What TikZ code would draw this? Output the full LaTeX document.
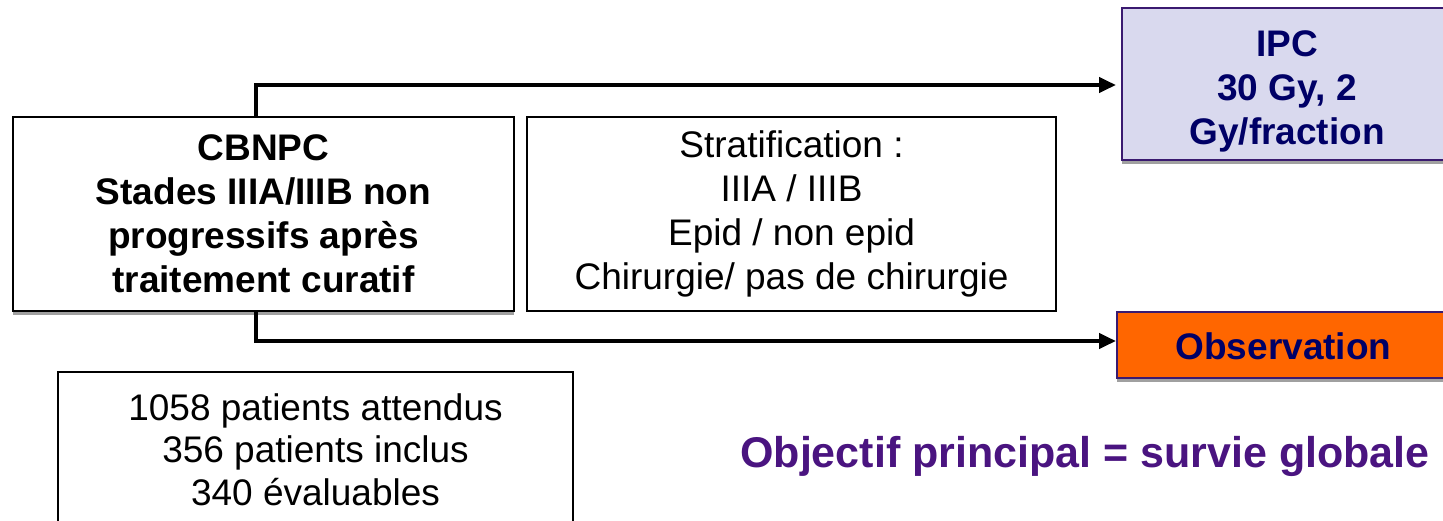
\documentclass[tikz,border=0pt]{standalone}
\usepackage{fontspec}
\setmainfont{Liberation Sans}
\usetikzlibrary{arrows.meta}
\definecolor{ipcfill}{HTML}{D9D9EE}
\definecolor{boxborder}{HTML}{3A1A70}
\definecolor{navytext}{HTML}{000066}
\definecolor{obsfill}{HTML}{FF6600}
\definecolor{objcol}{HTML}{4A1480}
\definecolor{shadowgrey}{HTML}{A0A0A0}
\tikzset{
  plainbox/.style={draw=black, line width=2pt, fill=white, align=center, inner sep=0pt},
  shadowed/.style={preaction={fill=shadowgrey, draw=none, transform canvas={yshift=-4pt}}},
  bigtext/.style={font=\fontsize{37}{44}\selectfont},
  conn/.style={line width=4pt, -{Triangle[length=17pt,width=15pt]}},
}
\begin{document}
\begin{tikzpicture}[x=1pt,y=-1pt]
\useasboundingbox (0,0) rectangle (1443,520);
\begin{scope}
\clip (0,0) rectangle (1443,520);
% boxes
\node[plainbox, shadowed, bigtext, minimum width=501pt, minimum height=194pt] (cbnpc) at (263.5,214)
  {\bfseries CBNPC\\\bfseries Stades IIIA/IIIB non\\\bfseries progressifs après\\\bfseries traitement curatif};
\node[plainbox, bigtext, minimum width=529pt, minimum height=194pt] (strat) at (791.5,214)
  {Stratification :\\IIIA / IIIB\\Epid / non epid\\Chirurgie/ pas de chirurgie};
\node[plainbox, draw=boxborder, fill=ipcfill, shadowed, bigtext, text=navytext, minimum width=330pt, minimum height=152pt] (ipc) at (1287,84)
  {\rule{0pt}{40pt}\bfseries IPC\\\bfseries 30 Gy, 2\\\bfseries Gy/fraction};
\node[plainbox, draw=boxborder, fill=obsfill, shadowed, bigtext, text=navytext, minimum width=333pt, minimum height=66pt] (obs) at (1283.5,345)
  {\rule{0pt}{30pt}\bfseries Observation};
\node[plainbox, font=\fontsize{37}{42.5}\selectfont, minimum width=515pt, minimum height=155pt] (pts) at (315.5,449.5)
  {1058 patients attendus\\356 patients inclus\\340 évaluables};
% objective
\node[font=\fontsize{43}{48}\selectfont\bfseries, text=objcol, anchor=center] (obj) at (1085,456) {Objectif principal = survie globale};
% connectors
\coordinate (t1) at (256,117);
\coordinate (b1) at (256,311);
\draw[conn] (t1) |- ([xshift=-5pt,yshift=-1pt]ipc.west);
\draw[conn] (b1) |- ([yshift=4pt]obs.west);
\end{scope}
\end{tikzpicture}
\end{document}
